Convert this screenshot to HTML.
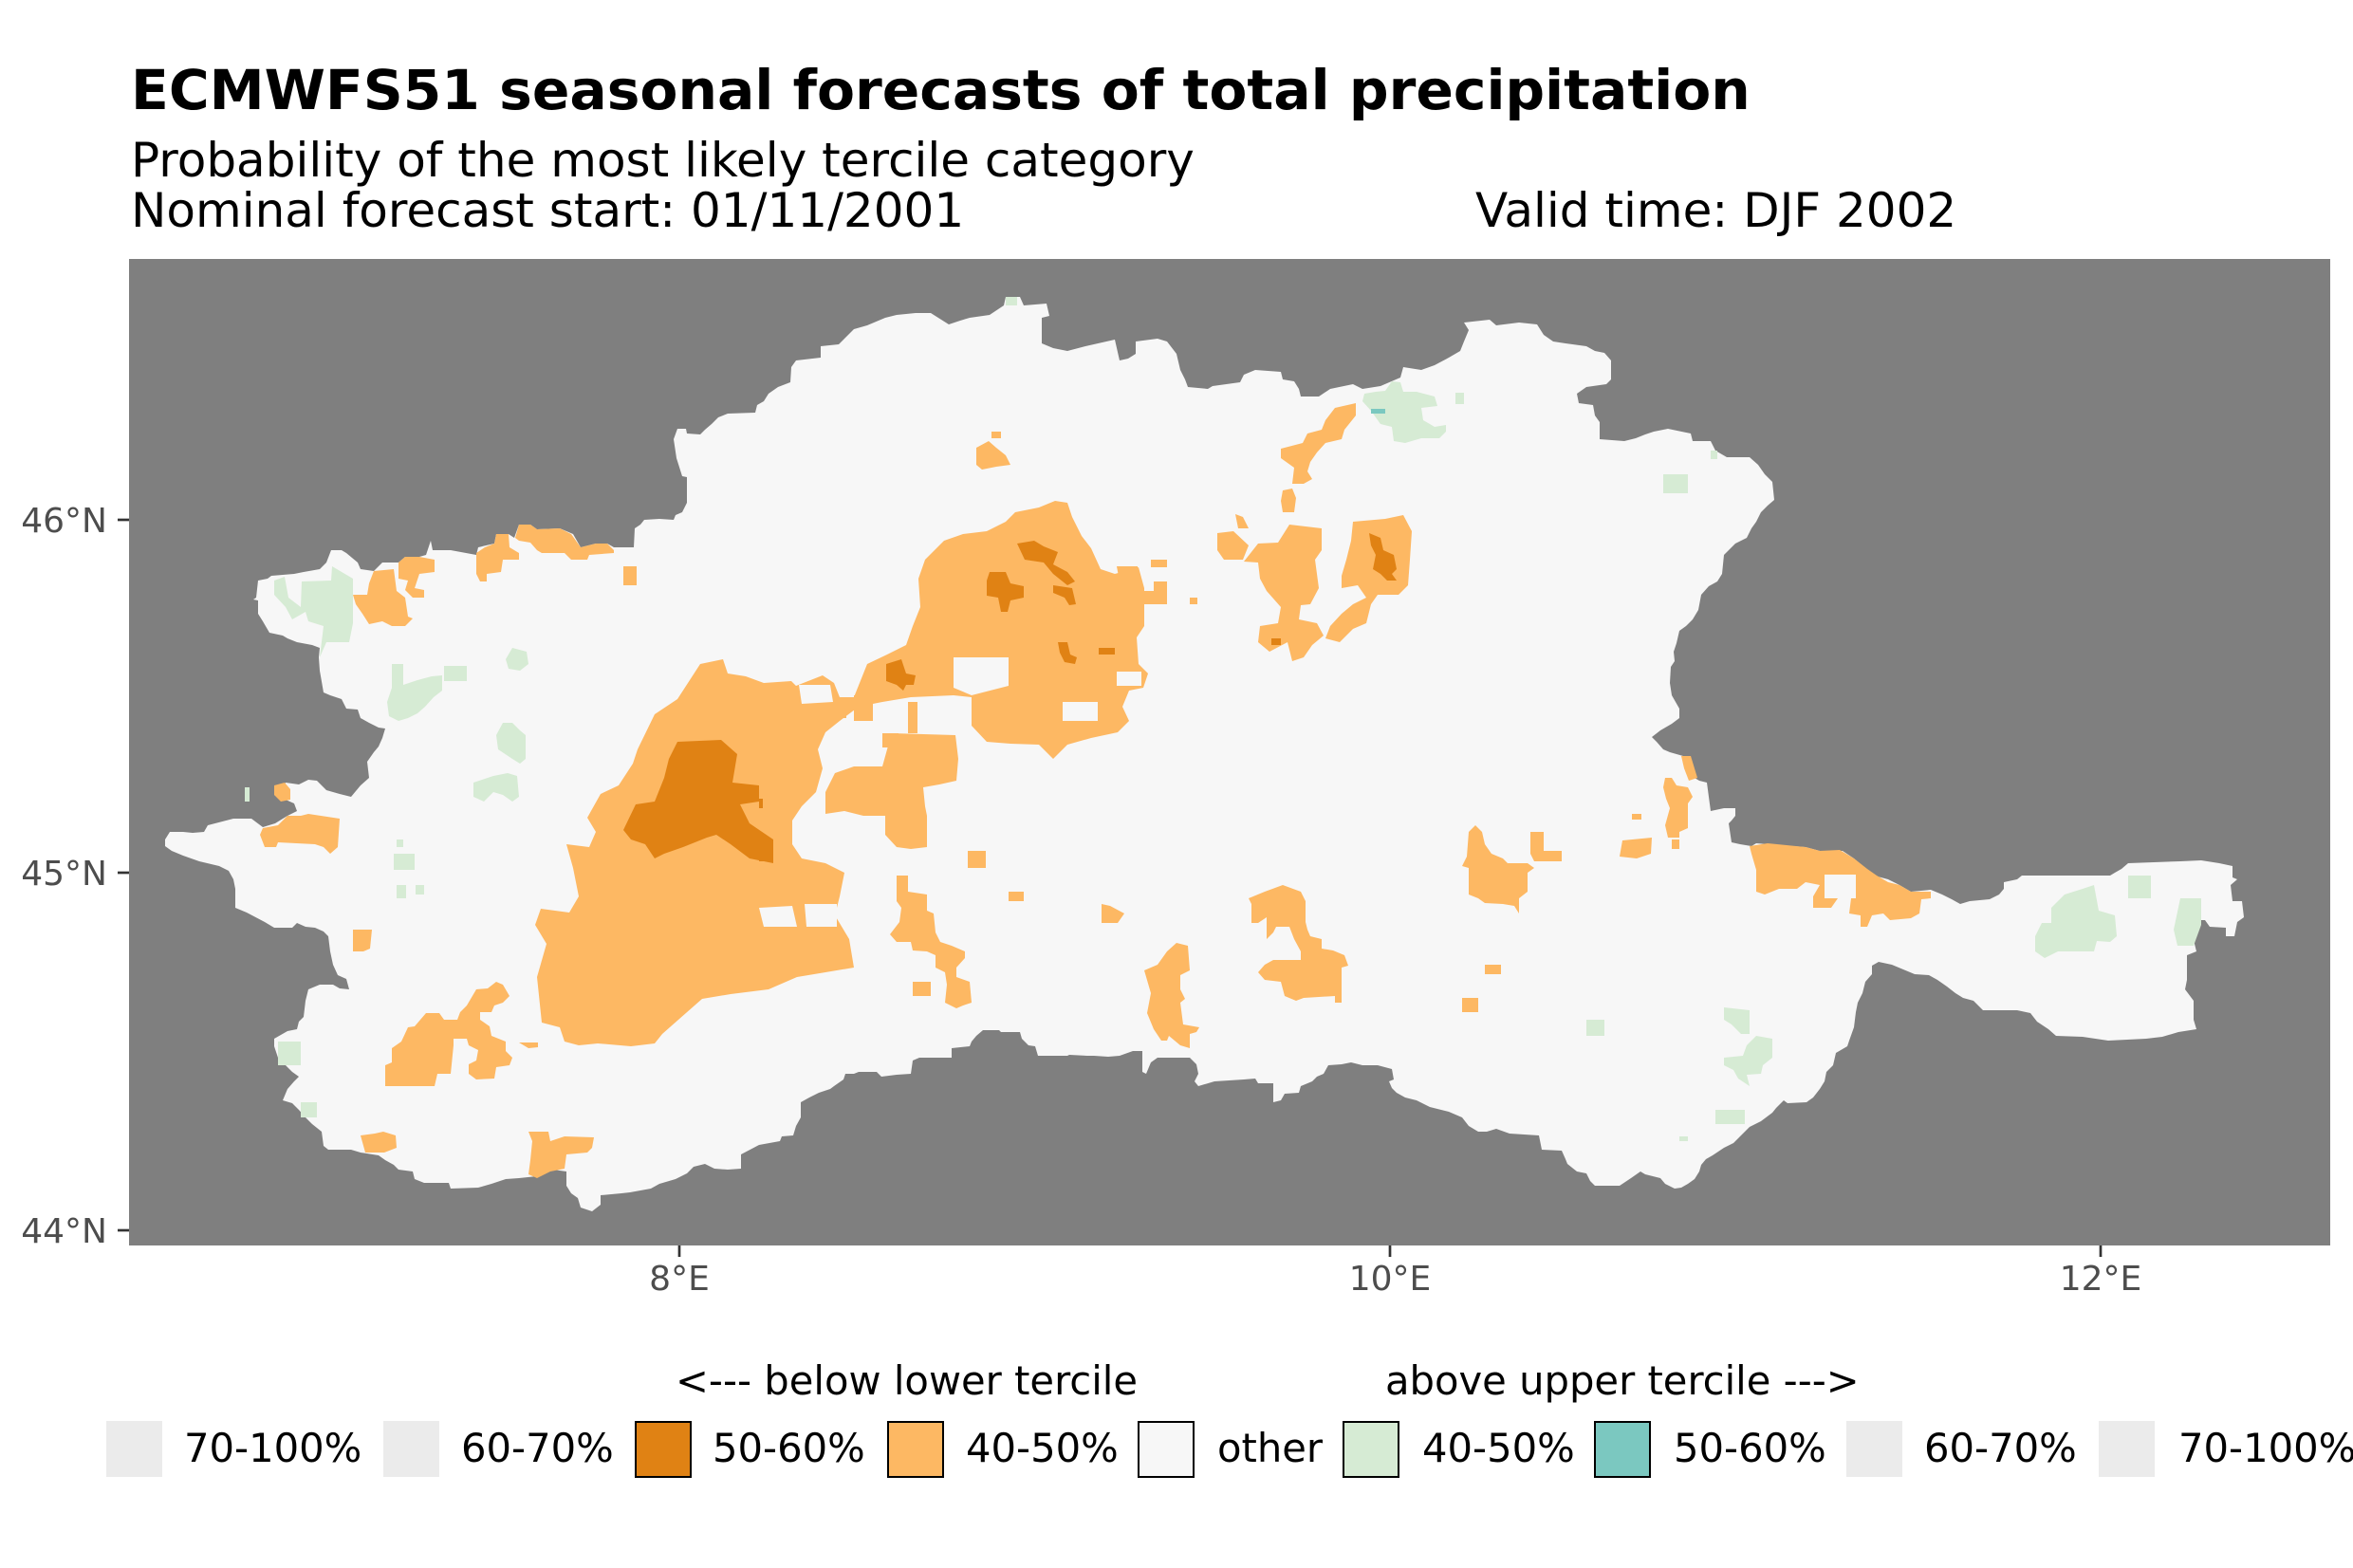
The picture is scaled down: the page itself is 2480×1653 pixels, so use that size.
<!DOCTYPE html>
<html><head><meta charset="utf-8"><style>
html,body{margin:0;padding:0;background:#fff;}
svg{display:block;}
text{font-family:"DejaVu Sans","Liberation Sans",sans-serif;}
</style></head><body>
<svg width="2480" height="1653" viewBox="0 0 2480 1653" xmlns="http://www.w3.org/2000/svg">
<rect width="2480" height="1653" fill="#fff"/>
<text x="138" y="115" font-size="58.3" font-weight="bold" fill="#000">ECMWFS51 seasonal forecasts of total precipitation</text>
<text x="138" y="186" font-size="50" fill="#000">Probability of the most likely tercile category</text>
<text x="138" y="239" font-size="50" fill="#000">Nominal forecast start: 01/11/2001</text>
<text x="1555" y="239" font-size="50" fill="#000">Valid time: DJF 2002</text>

<rect x="136" y="273" width="2320" height="1040" fill="#7F7F7F"/>

<polygon fill="#F7F7F7" points="900,347 884,363 865,365 865,377 839,380 834,387 833,403 820,408 810,415 805,423 798,427 796,435 767,436 757,440 750,447 743,453 738,458 724,457 723,452 714,452 710,463 713,483 719,502 724,503 724,530 719,540 712,543 710,548 695,547 679,548 675,553 669,557 668,577 647,577 640,573 628,573 612,577 604,563 590,557 566,558 559,553 547,553 542,567 536,563 523,563 521,573 504,577 502,585 475,580 456,580 454,570 449,585 442,587 427,587 420,593 403,593 394,602 380,600 377,593 365,583 360,580 349,580 344,593 337,600 320,603 310,605 286,607 282,610 272,612 270,630 267,632 272,633 272,647 277,655 284,667 298,670 303,673 313,677 329,680 337,683 336,693 337,707 341,730 348,733 360,737 365,747 377,748 380,757 389,762 399,767 406,768 403,778 399,787 394,793 387,803 389,820 380,828 370,840 358,837 344,833 334,823 325,822 315,827 301,825 298,832 289,838 301,843 310,847 313,855 303,860 290,868 277,872 265,863 246,863 219,870 215,877 203,878 193,877 179,877 174,885 174,892 181,897 193,902 210,908 231,913 241,918 246,927 248,937 248,957 260,962 279,972 289,978 308,978 313,973 322,977 332,978 341,982 346,987 348,1003 351,1017 356,1028 365,1032 368,1043 358,1042 351,1038 337,1038 325,1043 322,1055 320,1072 315,1077 313,1085 303,1087 289,1095 289,1103 293,1115 301,1123 308,1130 315,1135 310,1140 303,1148 298,1160 308,1163 315,1170 322,1178 329,1185 339,1193 341,1208 346,1212 370,1212 380,1215 399,1218 406,1223 415,1228 420,1233 435,1235 437,1243 447,1247 473,1247 475,1253 504,1252 518,1248 533,1243 547,1242 566,1240 583,1233 597,1235 597,1250 602,1258 609,1263 612,1273 624,1277 633,1270 633,1260 655,1258 664,1257 686,1253 695,1248 712,1243 724,1237 731,1230 743,1227 753,1232 767,1233 781,1232 781,1217 800,1207 822,1203 824,1198 836,1197 839,1187 844,1178 844,1162 853,1157 863,1152 875,1148 879,1145 889,1138 891,1132 900,1132 905,1130 924,1130 929,1135 945,1133 960,1132 962,1118 969,1115 1003,1115 1003,1105 1022,1103 1024,1098 1029,1092 1036,1086 1053,1086 1055,1088 1075,1088 1077,1095 1084,1102 1091,1103 1094,1113 1125,1113 1127,1112 1146,1113 1153,1113 1168,1114 1180,1113 1194,1108 1204,1108 1204,1130 1208,1132 1213,1120 1220,1115 1254,1115 1261,1122 1263,1132 1259,1140 1263,1145 1280,1140 1311,1138 1323,1137 1326,1142 1342,1142 1342,1162 1350,1160 1354,1153 1369,1152 1371,1145 1383,1140 1388,1135 1395,1132 1400,1123 1414,1122 1424,1120 1436,1123 1452,1123 1467,1127 1469,1138 1464,1140 1467,1147 1472,1152 1481,1157 1493,1160 1507,1167 1527,1172 1541,1178 1548,1187 1558,1193 1567,1193 1577,1190 1591,1195 1622,1197 1625,1212 1646,1213 1650,1222 1652,1227 1662,1235 1672,1237 1676,1245 1681,1250 1707,1250 1719,1242 1729,1235 1734,1238 1750,1242 1755,1248 1765,1253 1772,1252 1779,1248 1786,1243 1791,1235 1793,1228 1798,1222 1805,1218 1817,1210 1827,1205 1834,1198 1844,1188 1856,1182 1868,1173 1872,1168 1880,1160 1884,1163 1904,1162 1911,1157 1918,1148 1923,1140 1925,1130 1932,1123 1935,1110 1947,1103 1949,1097 1954,1083 1956,1067 1958,1057 1963,1047 1966,1035 1973,1027 1973,1018 1980,1014 1994,1017 2006,1022 2018,1027 2033,1028 2042,1033 2052,1040 2061,1047 2069,1052 2080,1055 2090,1065 2126,1065 2140,1068 2147,1077 2159,1085 2167,1092 2195,1093 2222,1097 2262,1095 2279,1093 2296,1088 2315,1085 2312,1075 2312,1055 2303,1043 2305,1033 2305,1007 2315,1003 2310,983 2312,970 2324,970 2329,977 2346,978 2346,987 2355,987 2358,972 2365,967 2363,950 2353,950 2351,933 2358,927 2353,925 2353,913 2339,910 2320,907 2298,908 2243,910 2236,916 2229,920 2224,923 2176,923 2131,923 2126,927 2112,930 2112,937 2107,943 2097,948 2076,950 2066,953 2057,948 2047,943 2035,938 2014,940 2002,933 1990,927 1975,923 1966,915 1954,905 1942,897 1918,897 1903,893 1863,890 1851,889 1846,892 1834,890 1825,888 1822,868 1825,865 1829,860 1829,852 1817,852 1803,855 1801,840 1799,825 1791,823 1786,820 1779,808 1774,797 1760,793 1753,790 1746,782 1741,777 1750,770 1762,763 1770,757 1770,747 1762,733 1760,720 1761,703 1765,697 1764,687 1767,678 1770,665 1777,660 1784,653 1790,643 1793,627 1801,618 1810,613 1815,605 1817,585 1825,577 1829,573 1841,567 1846,557 1851,550 1856,540 1863,533 1870,527 1868,508 1860,500 1853,490 1844,482 1820,482 1808,475 1803,465 1784,465 1782,457 1758,452 1743,455 1734,458 1724,462 1712,465 1686,463 1686,445 1681,438 1679,427 1664,425 1662,415 1672,408 1693,405 1698,400 1698,380 1691,372 1681,370 1672,365 1650,362 1637,360 1627,353 1620,342 1601,340 1577,343 1570,337 1543,340 1548,348 1543,360 1539,370 1527,377 1512,385 1498,390 1479,387 1476,398 1455,407 1436,410 1426,405 1402,410 1390,418 1371,418 1369,410 1364,402 1352,400 1350,392 1323,390 1311,395 1307,403 1278,407 1273,410 1252,408 1249,400 1244,390 1240,373 1230,360 1220,357 1197,360 1197,373 1189,378 1180,380 1175,358 1144,365 1125,370 1110,367 1098,362 1098,335 1106,333 1103,320 1079,322 1075,313 1060,313 1058,322 1043,332 1022,335 1012,338 1000,342 981,330 965,330 945,332 933,335 914,343"/>

<g fill="#D6EBD4">
<polygon points="289,612 300,608 304,630 317,640 318,613 349,612 350,597 372,610 372,657 368,677 344,677 337,693 341,660 325,655 322,645 308,653 301,640 289,627"/>
<polygon points="413,700 425,700 425,722 440,717 455,713 466,712 466,728 457,735 448,745 440,752 430,757 420,760 410,755 408,740 413,725"/>
<rect x="468" y="702" width="24" height="16"/>
<polygon points="540,683 555,687 557,700 548,707 536,705 533,695"/>
<polygon points="530,762 540,762 548,770 554,775 554,800 548,805 540,800 525,790 523,775"/>
<polygon points="508,822 520,818 535,815 545,818 547,840 540,845 530,838 520,835 510,845 499,840 499,825"/>
<rect x="415" y="900" width="22" height="17"/>
<rect x="418" y="885" width="7" height="8"/>
<rect x="418" y="933" width="10" height="14"/>
<rect x="438" y="933" width="9" height="10"/>
<rect x="293" y="1098" width="24" height="25"/>
<rect x="317" y="1162" width="17" height="16"/>
<rect x="258" y="830" width="5" height="15"/>
<polygon points="1467,402 1476,403 1479,413 1493,413 1512,418 1515,428 1498,430 1500,443 1507,447 1512,450 1524,448 1524,455 1517,462 1498,462 1481,467 1469,465 1467,450 1455,447 1450,440 1445,433 1436,423 1438,415 1450,413 1460,412"/>
<rect x="1534" y="414" width="9" height="12"/>
<rect x="1753" y="500" width="26" height="20"/>
<rect x="1803" y="475" width="7" height="9"/>
<polygon points="2162,957 2176,943 2195,937 2207,933 2212,960 2229,965 2231,987 2224,993 2210,992 2207,1003 2181,1003 2169,1003 2155,1010 2145,1003 2145,987 2152,973 2162,973"/>
<rect x="2243" y="923" width="24" height="24"/>
<polygon points="2298,947 2320,947 2320,975 2312,997 2295,997 2291,980"/>
<polygon points="1851,1092 1868,1095 1868,1115 1858,1123 1856,1132 1841,1133 1844,1145 1832,1137 1827,1128 1817,1123 1817,1115 1837,1113 1841,1102"/>
<polygon points="1817,1062 1844,1065 1844,1090 1835,1090 1825,1080 1817,1075"/>
<rect x="1808" y="1170" width="31" height="15"/>
<rect x="1672" y="1075" width="19" height="17"/>
<rect x="1770" y="1198" width="9" height="5"/>
<rect x="1060" y="313" width="12" height="9"/>
</g>
<rect x="1445" y="431" width="15" height="5" fill="#7BC8C0"/>

<g fill="#FDB863">
<polygon points="571,1078 566,1030 576,995 564,975 570,958 600,962 610,945 604,915 597,890 621,893 628,877 619,862 633,837 652,828 667,805 672,790 690,753 714,737 738,700 762,695 767,710 786,713 805,720 834,718 839,723 867,712 879,720 885,735 900,735 914,700 935,690 955,680 962,660 970,640 968,610 975,590 985,580 995,570 1015,563 1040,560 1060,550 1070,540 1095,535 1112,528 1125,530 1130,545 1140,565 1150,578 1160,600 1175,605 1200,598 1206,620 1206,660 1198,672 1200,700 1210,710 1205,725 1190,728 1183,745 1190,760 1178,772 1150,778 1125,785 1110,800 1095,785 1065,784 1040,782 1024,765 1024,735 1005,733 960,735 930,740 905,745 885,760 870,772 862,790 867,810 860,835 845,850 835,865 835,890 845,905 870,910 890,920 885,945 880,965 895,990 900,1020 870,1025 840,1030 810,1043 770,1048 740,1053 715,1075 698,1090 690,1100 665,1103 630,1100 610,1102 595,1098 590,1083"/>
<polygon points="940,773 1007,775 1010,800 1008,823 990,827 973,830 975,850 977,860 977,893 960,895 945,893 933,880 933,860 910,860 890,855 870,858 870,835 880,815 900,808 930,808 935,790"/>
<rect x="900" y="733" width="20" height="27"/>
<rect x="930" y="773" width="17" height="15"/>
<rect x="957" y="740" width="10" height="33"/>
<rect x="877" y="745" width="15" height="12"/>
<polygon points="394,602 415,600 418,623 427,630 430,650 435,652 427,660 413,660 403,655 389,658 382,647 375,637 372,627 387,627 389,615"/>
<polygon points="427,587 442,587 458,590 458,603 442,605 437,620 447,622 447,630 435,630 427,622 430,612 420,610 420,593"/>
<polygon points="523,563 536,563 537,577 547,583 547,590 530,590 528,603 513,605 513,613 506,613 502,605 502,583 511,577 521,573"/>
<polygon points="547,553 559,553 566,558 590,557 602,563 612,577 628,573 640,573 647,580 647,583 621,585 619,590 602,590 595,583 571,583 566,580 559,572 547,570 543,567"/>
<polygon points="657,597 671,597 671,617 657,617"/>
<polygon points="303,860 317,860 325,858 358,863 356,893 348,900 341,893 332,890 293,888 291,893 279,893 274,880 277,873 293,870"/>
<polygon points="289,828 300,825 306,832 306,843 296,845 289,838"/>
<polygon points="372,980 392,980 390,1000 383,1003 372,1003"/>
<polygon points="523,1035 530,1038 537,1050 530,1057 521,1060 518,1067 506,1067 506,1075 516,1082 518,1092 533,1098 533,1108 540,1115 537,1123 523,1125 521,1137 502,1138 494,1132 494,1122 502,1118 504,1107 494,1102 492,1095 478,1095 478,1102 475,1132 461,1132 458,1145 406,1145 406,1123 413,1120 413,1105 423,1098 430,1083 437,1082 449,1068 463,1068 468,1075 482,1075 485,1067 492,1060 502,1043 514,1042"/>
<polygon points="547,1099 567,1099 567,1104 557,1105"/>
<polygon points="557,1193 578,1193 580,1203 595,1198 626,1199 624,1210 619,1215 597,1217 595,1232 580,1235 566,1242 557,1238 559,1223 561,1203"/>
<polygon points="380,1197 395,1195 404,1193 417,1197 418,1210 405,1215 385,1215"/>
<polygon points="1029,472 1042,465 1050,472 1060,480 1065,490 1050,492 1035,495 1029,490"/>
<rect x="1045" y="455" width="10" height="7"/>
<polygon points="1407,430 1429,425 1429,438 1417,453 1414,463 1397,467 1388,477 1381,487 1378,497 1383,505 1374,510 1362,510 1364,493 1357,488 1350,483 1350,473 1373,467 1378,457 1393,453 1397,443"/>
<polygon points="1352,517 1362,515 1366,525 1364,540 1352,540 1350,528"/>
<polygon points="1426,550 1460,547 1479,543 1488,560 1486,590 1484,617 1474,627 1452,627 1445,637 1440,657 1426,663 1412,677 1397,673 1402,660 1414,647 1426,637 1440,630 1431,617 1414,620 1414,607 1419,590 1424,570"/>
<polygon points="1359,553 1393,557 1393,580 1386,590 1390,620 1381,637 1371,638 1369,653 1388,657 1395,670 1383,680 1374,693 1362,697 1357,677 1338,687 1326,677 1328,660 1347,657 1350,640 1335,623 1328,610 1326,593 1311,592 1326,573 1347,572"/>
<polygon points="1283,562 1300,560 1316,575 1310,590 1290,590 1283,580"/>
<polygon points="1302,542 1310,545 1316,557 1305,557"/>
<polygon points="1177,597 1199,597 1199,613 1180,613"/>
<polygon points="1201,623 1230,623 1230,637 1201,637"/>
<rect x="1216" y="613" width="14" height="10"/>
<rect x="1213" y="590" width="17" height="8"/>
<rect x="1254" y="630" width="8" height="7"/>
<polygon points="1240,994 1252,997 1254,1023 1244,1028 1244,1043 1249,1053 1244,1057 1247,1080 1264,1083 1261,1088 1254,1090 1254,1105 1244,1102 1232,1092 1230,1097 1224,1097 1216,1085 1209,1068 1213,1047 1206,1023 1220,1017 1230,1003"/>
<polygon points="1316,947 1333,940 1352,933 1371,940 1376,950 1376,972 1378,980 1381,987 1393,990 1393,1000 1405,1002 1417,1007 1421,1018 1414,1020 1414,1057 1407,1057 1407,1050 1374,1052 1366,1055 1354,1050 1350,1035 1333,1033 1326,1025 1333,1017 1342,1012 1371,1012 1371,1003 1364,990 1359,977 1345,977 1342,983 1335,990 1335,967 1326,973 1319,973 1319,953"/>
<polygon points="1548,877 1555,870 1562,877 1565,890 1572,900 1584,905 1589,910 1610,910 1617,915 1610,920 1610,940 1601,947 1601,963 1596,955 1584,953 1565,952 1558,947 1548,943 1548,915 1541,913 1546,903"/>
<polygon points="1613,877 1627,877 1627,897 1646,897 1646,908 1617,908 1613,900"/>
<polygon points="945,923 957,923 957,940 977,943 977,960 984,963 986,983 991,993 1003,997 1017,1003 1017,1010 1008,1020 1008,1030 1022,1035 1024,1057 1015,1060 1008,1063 996,1057 998,1038 996,1025 986,1020 986,1007 977,1003 962,1002 960,993 945,993 938,985 948,972 950,957 945,950"/>
<rect x="962" y="1035" width="19" height="15"/>
<rect x="1020" y="897" width="19" height="18"/>
<rect x="1063" y="940" width="16" height="10"/>
<polygon points="1161,953 1170,955 1185,963 1178,973 1161,973"/>
<rect x="1565" y="1017" width="17" height="10"/>
<rect x="1541" y="1052" width="17" height="15"/>
<polygon points="1844,892 1863,889 1903,893 1918,897 1939,896 1954,905 1968,916 1978,923 1990,930 2002,933 2014,940 2035,940 2035,947 2025,948 2023,963 2014,968 1992,970 1985,963 1973,965 1968,977 1961,977 1961,965 1949,963 1951,947 1937,947 1930,957 1911,957 1911,945 1918,933 1903,930 1894,937 1875,937 1860,943 1851,940 1851,917 1846,900"/>
<polygon points="1755,820 1762,820 1767,828 1779,830 1784,840 1779,847 1779,873 1770,877 1770,883 1758,883 1755,870 1760,852 1756,842 1753,830"/>
<polygon points="1772,797 1782,797 1789,820 1780,823 1775,810"/>
<polygon points="1710,886 1741,883 1740,900 1725,905 1707,903"/>
<rect x="1762" y="885" width="8" height="10"/>
<rect x="1720" y="858" width="10" height="6"/>
</g>
<g fill="#F7F7F7">
<polygon points="1005,693 1063,693 1063,723 1024,733 1005,725"/>
<polygon points="800,957 835,955 840,977 805,977"/>
<polygon points="848,953 882,953 882,977 850,977"/>
<polygon points="1923,922 1956,922 1956,947 1923,947"/>
<polygon points="842,722 875,722 878,740 845,742"/>
<polygon points="1177,708 1203,708 1203,723 1177,723"/>
<polygon points="1120,740 1157,740 1157,760 1120,760"/>
</g>
<g fill="#E08214">
<polygon points="714,782 760,780 777,795 772,825 800,828 800,845 780,848 790,868 815,885 815,910 790,905 770,890 755,880 745,883 720,893 700,900 690,905 680,890 665,885 657,875 670,848 690,845 700,820 705,800"/>
<polygon points="1043,603 1060,603 1065,615 1079,618 1079,630 1065,633 1062,645 1055,645 1052,630 1040,628 1040,612"/>
<polygon points="1072,573 1090,570 1100,576 1115,582 1110,595 1125,603 1133,613 1125,617 1110,605 1100,593 1080,590"/>
<polygon points="1110,617 1130,620 1134,637 1127,638 1122,630 1110,625"/>
<polygon points="1115,677 1125,677 1128,690 1135,693 1133,700 1122,698 1117,688"/>
<rect x="1158" y="683" width="17" height="7"/>
<polygon points="934,700 950,695 955,710 965,712 963,722 955,722 952,728 945,722 934,718"/>
<polygon points="1443,562 1455,567 1458,580 1469,585 1472,600 1467,605 1472,612 1462,612 1455,605 1447,600 1450,585 1445,575"/>
<rect x="1340" y="673" width="10" height="7"/>
<rect x="800" y="842" width="4" height="10"/>
<rect x="800" y="888" width="15" height="20"/>
</g>

<g stroke="#333" stroke-width="2.7">
<line x1="124" y1="548" x2="136" y2="548"/>
<line x1="124" y1="920" x2="136" y2="920"/>
<line x1="124" y1="1297" x2="136" y2="1297"/>
<line x1="716" y1="1313" x2="716" y2="1325"/>
<line x1="1465" y1="1313" x2="1465" y2="1325"/>
<line x1="2214" y1="1313" x2="2214" y2="1325"/>
</g>
<g font-size="36" fill="#4D4D4D">
<text x="113" y="561" text-anchor="end">46°N</text>
<text x="113" y="933" text-anchor="end">45°N</text>
<text x="113" y="1310" text-anchor="end">44°N</text>
<text x="716" y="1360" text-anchor="middle">8°E</text>
<text x="1465" y="1360" text-anchor="middle">10°E</text>
<text x="2214" y="1360" text-anchor="middle">12°E</text>
</g>

<g font-size="41.7" fill="#000">
<text x="712" y="1470">&lt;--- below lower tercile</text>
<text x="1460" y="1470">above upper tercile ---&gt;</text>
</g>
<rect x="112" y="1498" width="59" height="59" fill="#EBEBEB"/>
<rect x="404" y="1498" width="59" height="59" fill="#EBEBEB"/>
<rect x="670" y="1499" width="58" height="58" fill="#E08214" stroke="#000" stroke-width="2"/>
<rect x="936" y="1499" width="58" height="58" fill="#FDB863" stroke="#000" stroke-width="2"/>
<rect x="1200" y="1499" width="58" height="58" fill="#F7F7F7" stroke="#000" stroke-width="2"/>
<rect x="1416" y="1499" width="58" height="58" fill="#D6EBD4" stroke="#000" stroke-width="2"/>
<rect x="1681" y="1499" width="58" height="58" fill="#7BC8C0" stroke="#000" stroke-width="2"/>
<rect x="1946" y="1498" width="59" height="59" fill="#EBEBEB"/>
<rect x="2212" y="1498" width="59" height="59" fill="#EBEBEB"/>
<g font-size="41.7" fill="#000">
<text x="194" y="1541">70-100%</text>
<text x="486" y="1541">60-70%</text>
<text x="751" y="1541">50-60%</text>
<text x="1018" y="1541">40-50%</text>
<text x="1283" y="1541">other</text>
<text x="1499" y="1541">40-50%</text>
<text x="1764" y="1541">50-60%</text>
<text x="2028" y="1541">60-70%</text>
<text x="2296" y="1541">70-100%</text>
</g>
</svg>
</body></html>
